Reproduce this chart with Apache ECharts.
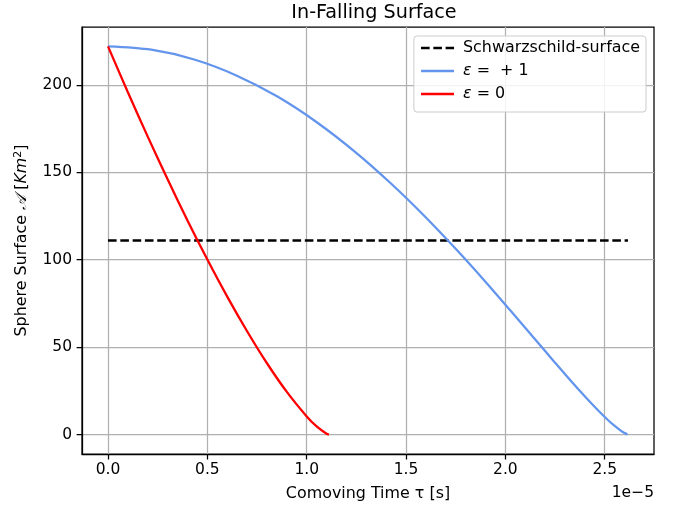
<!DOCTYPE html>
<html>
<head>
<meta charset="utf-8">
<script src="https://cdn.jsdelivr.net/npm/echarts@6/dist/echarts.min.js"></script>
<style>
  html, body { margin: 0; padding: 0; background: #fff; }
  #main { width: 678px; height: 508px; }
</style>
</head>
<body>
<div id="main"></div>
<script>
// In-Falling Surface

// time axis is in units of 1e-5 s
var timeTicks = [0, 0.5, 1, 1.5, 2, 2.5];
var areaTicks = [0, 50, 100, 150, 200];

var schwarzschildArea = 111;
var schwarzschildTime = [0, 2.617];

// epsilon = +1
var closedTime = [0, 0.2178, 0.4337, 0.6459, 0.8527, 1.0523, 1.2433, 1.4241, 1.5937, 1.7510,
    1.8950, 2.0253, 2.1415, 2.2434, 2.3312, 2.4052, 2.4660, 2.5145, 2.5517, 2.5788,
    2.5973, 2.6145, 2.617];
var closedArea = [222, 220.1, 214.5, 205.4, 193.3, 178.5, 161.7, 143.6, 124.9, 106.1,
    88.0, 70.9, 55.5, 42.0, 30.5, 21.2, 13.9, 8.5, 4.8, 2.4,
    1.0, 0.06, 0];

// epsilon = 0
var flatTime = [0, 0.1, 0.2, 0.3, 0.4, 0.5, 0.6, 0.7, 0.8, 0.9, 1.0, 1.05, 1.1, 1.112];
var flatArea = [222, 195.8, 170.4, 146.0, 122.5, 100.1, 78.9, 59.1, 40.8, 24.4, 10.4, 4.7, 0.5, 0];

function zip(xs, ys) {
    return xs.map(function (x, i) { return [x, ys[i]]; });
}

var font = 'DejaVu Sans';
var fs = 15.5;
var fsName = 15.9;

var dom = document.getElementById('main');
var myChart = echarts.init(dom);

var option = {
    animation: false,
    backgroundColor: '#fff',
    textStyle: { fontFamily: font },
    title: {
        text: 'In-Falling Surface',
        left: 369,
        textAlign: 'center',
        top: -1,
        textStyle: { fontFamily: font, fontSize: 19.2, fontWeight: 'normal', color: '#000' }
    },
    grid: {
        left: 82,
        top: 27,
        width: 572,
        height: 427,
        show: true,
        borderColor: '#000',
        borderWidth: 1.25,
        backgroundColor: 'transparent'
    },
    legend: {
        orient: 'vertical',
        right: 32,
        top: 36,
        itemWidth: 33,
        itemHeight: 14,
        itemGap: 5,
        padding: [3, 6, 9, 6],
        backgroundColor: 'rgba(255,255,255,0.85)',
        borderColor: '#cccccc',
        borderWidth: 1,
        borderRadius: 3,
        itemStyle: { opacity: 0 },
        lineStyle: { width: 2.3 },
        data: ['Schwarzschild-surface', 'ε = +1', 'ε = 0'],
        formatter: function (name) {
            if (name === 'ε = +1') return '{e|ε} =  + 1';
            if (name === 'ε = 0') return '{e|ε} = 0';
            return name;
        },
        textStyle: {
            fontFamily: font,
            fontSize: fsName,
            lineHeight: 18,
            color: '#000',
            padding: [0, 0, 0, 4],
            rich: {
                e: { fontFamily: font, fontSize: fsName, lineHeight: 18, fontStyle: 'italic', color: '#000' }
            }
        }
    },
    xAxis: {
        type: 'value',
        min: -0.1309,
        max: 2.7479,
        name: 'Comoving Time τ [s]',
        nameLocation: 'middle',
        nameGap: 32,
        nameTextStyle: { fontFamily: font, fontSize: fsName, color: '#000' },
        axisLine: { show: true, onZero: false, lineStyle: { color: '#000', width: 1.25 } },
        axisTick: {
            show: true,
            inside: false,
            length: 5.4,
            customValues: timeTicks,
            lineStyle: { color: '#000', width: 1.25 }
        },
        axisLabel: {
            customValues: timeTicks,
            margin: 8,
            fontFamily: font,
            fontSize: fs,
            color: '#000',
            formatter: function (v) { return v.toFixed(1); }
        },
        splitLine: { show: true, lineStyle: { color: '#b0b0b0', width: 1.25 } }
    },
    yAxis: {
        type: 'value',
        min: -11.1,
        max: 233.1,
        name: 'Sphere Surface {m|𝒜} [{i|Km}{s|2}]',
        nameLocation: 'middle',
        nameGap: 51,
        nameRotate: 90,
        nameTextStyle: {
            fontFamily: font,
            fontSize: fsName,
            color: '#000',
            rich: {
                m: { fontFamily: font, fontSize: fsName, fontStyle: 'italic', color: '#000' },
                i: { fontFamily: font, fontSize: fsName, fontStyle: 'italic', color: '#000' },
                s: { fontFamily: font, fontSize: 11, color: '#000', verticalAlign: 'top', padding: [0, 0, 7, 0] }
            }
        },
        axisLine: { show: true, onZero: false, lineStyle: { color: '#000', width: 1.25 } },
        axisTick: {
            show: true,
            inside: false,
            length: 5.4,
            customValues: areaTicks,
            lineStyle: { color: '#000', width: 1.25 }
        },
        axisLabel: {
            customValues: areaTicks,
            margin: 10,
            fontFamily: font,
            fontSize: fs,
            color: '#000'
        },
        splitLine: { show: true, lineStyle: { color: '#b0b0b0', width: 1.25 } }
    },
    graphic: [
        {
            type: 'text',
            right: 24,
            top: 485,
            style: { text: '1e\u22125', fontFamily: font, fontSize: fs, fill: '#000' }
        }
    ],
    series: [
        {
            name: 'Schwarzschild-surface',
            type: 'line',
            showSymbol: false,
            symbol: 'none',
            data: zip(schwarzschildTime, [schwarzschildArea, schwarzschildArea]),
            lineStyle: { color: '#000', width: 2.3, type: [8.6, 3.7] },
            itemStyle: { color: '#000' },
            z: 3
        },
        {
            name: 'ε = +1',
            type: 'line',
            showSymbol: false,
            symbol: 'none',
            smooth: 0.3,
            data: zip(closedTime, closedArea),
            lineStyle: { color: '#6495ed', width: 2.3 },
            itemStyle: { color: '#6495ed' },
            z: 4
        },
        {
            name: 'ε = 0',
            type: 'line',
            showSymbol: false,
            symbol: 'none',
            smooth: 0.3,
            data: zip(flatTime, flatArea),
            lineStyle: { color: '#ff0000', width: 2.3 },
            itemStyle: { color: '#ff0000' },
            z: 5
        }
    ]
};

if (option && typeof option === 'object') {
    myChart.setOption(option);
}
</script>
</body>
</html>
